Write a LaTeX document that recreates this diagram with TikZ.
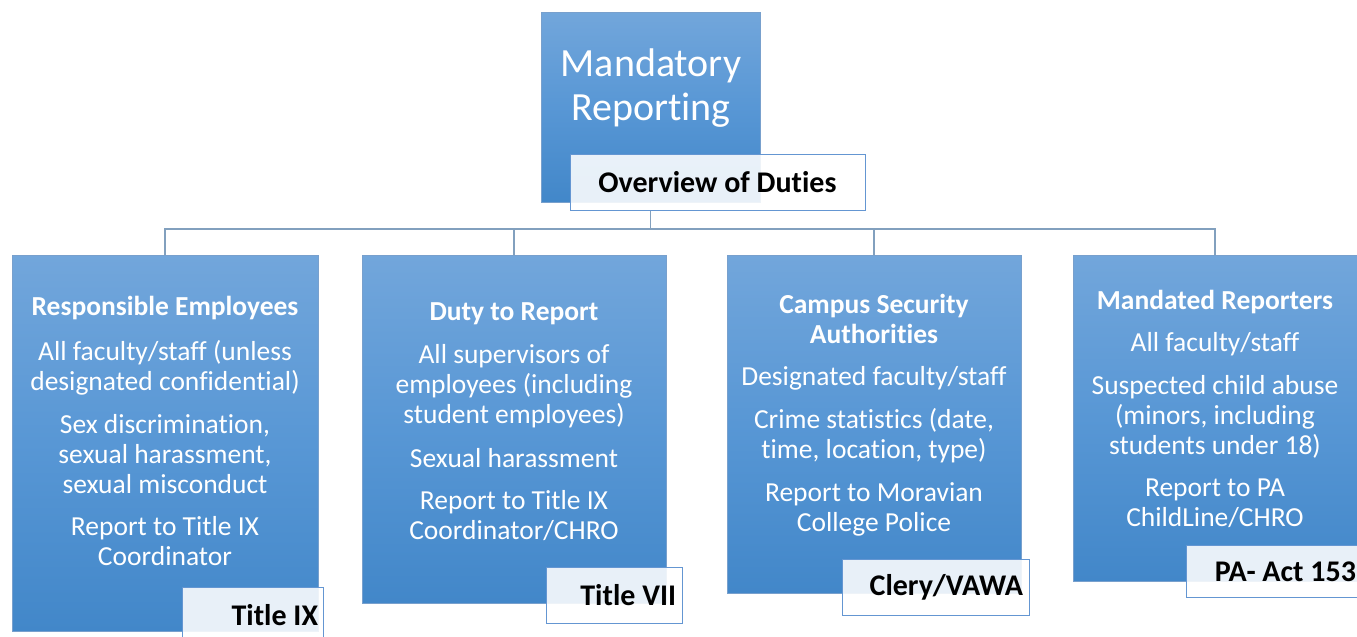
\documentclass[tikz,border=0pt]{standalone}
\usepackage{fontspec}
\setmainfont[Ligatures=NoCommon]{Carlito}
\definecolor{btop}{RGB}{114,166,219}
\definecolor{bmid}{RGB}{88,151,213}
\definecolor{bbot}{RGB}{66,135,201}
\definecolor{bline}{RGB}{120,160,205}
\definecolor{connc}{RGB}{130,160,190}
\definecolor{lline}{RGB}{100,150,210}
\tikzset{
 bluebox/.style={rectangle, inner sep=0pt, top color=btop, bottom color=bbot, middle color=bmid, draw=bline, line width=0.8pt},
 labelbox/.style={rectangle, draw=lline, line width=1pt, fill=white, fill opacity=0.88, text opacity=1, inner xsep=6pt, inner ysep=0pt, font=\fontsize{30}{34}\selectfont\bfseries, minimum height=56pt},
 bodytext/.style={text=white, align=flush center, font=\fontsize{27.5}{30}\selectfont},
 connline/.style={draw=connc, line width=1.4pt}
}
\begin{document}
\begin{tikzpicture}[x=1pt,y=-1pt]
\useasboundingbox (0,0) rectangle (1357,637);
\clip (0,0) rectangle (1357,637);
% blue boxes
\node[bluebox, minimum width=219pt, minimum height=190pt] (top) at (650.5,107) {};
\node[bluebox, minimum width=306pt, minimum height=376pt] (b1) at (165,443) {};
\node[bluebox, minimum width=304pt, minimum height=348pt] (b2) at (514,429) {};
\node[bluebox, minimum width=294pt, minimum height=338pt] (b3) at (874,424) {};
\node[bluebox, minimum width=284pt, minimum height=326pt] (b4) at (1215,418) {};
% labels
\node[labelbox, minimum width=295pt, text width=283pt, align=flush center] (ov) at (717.5,182.5) {Overview of Duties};
\coordinate (hub) at (top.center |- ov.south);
\coordinate (bar) at (650.5,229);
% connectors
\draw[connline] (hub) -- (bar);
\draw[connline] (bar) -| (b1.north);
\draw[connline] (bar) -| (b2.north);
\draw[connline] (bar) -| (b3.north);
\draw[connline] (bar) -| (b4.north);
\node[labelbox, text width=131pt, inner xsep=5pt, align=flush right] (l1) at (252.5,615) {Title IX};
\node[labelbox, text width=124pt, align=flush right] (l2) at (614,595) {Title VII};
\node[labelbox, text width=175pt, align=flush right] (l3) at (935.5,587) {Clery/VAWA};
\node[labelbox, minimum height=52pt, text width=164pt, align=flush right] (l4) at (1274,571.5) {PA- Act 153};
% texts
\node[text=white, align=flush center, font=\fontsize{40}{44}\selectfont] (tt) at (651,88) {Mandatory\\Reporting};
\node[bodytext] (t1) at (165,430.5) {\textbf{Responsible Employees}\\[15pt] All faculty/staff (unless\\ designated confidential)\\[13pt] Sex discrimination,\\ sexual harassment,\\ sexual misconduct\\[12pt] Report to Title IX\\ Coordinator};
\node[bodytext] (t2) at (514,421.5) {\textbf{Duty to Report}\\[13pt] All supervisors of\\ employees (including\\ student employees)\\[14pt] Sexual harassment\\[12pt] Report to Title IX\\ Coordinator/CHRO};
\node[bodytext] (t3) at (874,415.5) {\textbf{Campus Security}\\ \textbf{Authorities}\\[12pt] Designated faculty/staff\\[13pt] Crime statistics (date,\\ time, location, type)\\[13pt] Report to Moravian\\ College Police};
\node[bodytext] (t4) at (1215,409) {\textbf{Mandated Reporters}\\[12pt] All faculty/staff\\[13pt] Suspected child abuse\\ (minors, including\\ students under 18)\\[12pt] Report to PA\\ ChildLine/CHRO};
\end{tikzpicture}
\end{document}
